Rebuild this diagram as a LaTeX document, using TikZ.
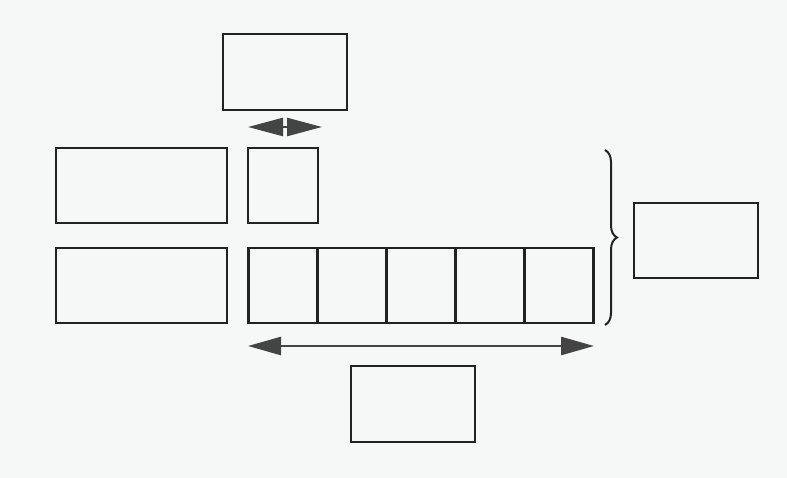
\documentclass[tikz,border=0pt]{standalone}
\usetikzlibrary{arrows.meta,decorations.pathreplacing}
\definecolor{bg}{HTML}{F6F7F7}
\definecolor{ink}{HTML}{222222}
\definecolor{arr}{HTML}{444444}
\begin{document}
\begin{tikzpicture}[x=1pt,y=-1pt,
  box/.style={draw=ink,line width=2.5pt,inner sep=0pt,minimum width=#1},
  box/.default=124pt,
  dblarrow/.style={draw=arr,line width=2.5pt,
    {Triangle[length=#1,width=18pt,fill=arr]}-{Triangle[length=#1,width=18pt,fill=arr]}},
  dblarrow/.default=33pt,
  bracestyle/.style={draw=ink,line width=2pt,decorate,decoration={brace,amplitude=12pt}}]
\fill[bg] (0,0) rectangle (787,478);
\useasboundingbox (0,0) rectangle (787,478);
% boxes
\node[box, minimum height=76pt] (top) at (285,72) {};
\node[box=171pt, minimum height=75pt] (l1) at (141.5,185.5) {};
\node[box=70pt, minimum height=75pt] (sq) at (283,185.5) {};
\node[box=171pt, minimum height=75pt] (l2) at (141.5,285.5) {};
\node[box=69pt, minimum height=75pt] (c1) at (283,285.5) {};
\node[box=69pt, minimum height=75pt] (c2) at (352,285.5) {};
\node[box=69pt, minimum height=75pt] (c3) at (421,285.5) {};
\node[box=69pt, minimum height=75pt] (c4) at (490,285.5) {};
\node[box=69pt, minimum height=75pt] (c5) at (559,285.5) {};
\node[box, minimum height=75pt] (right) at (696,240.5) {};
\node[box, minimum height=76pt] (bot) at (413,404) {};
% arrows
\coordinate (ta) at (248,127);
\coordinate (tb) at (322,127);
\draw[dblarrow=35pt] (ta) -- (tb);
\coordinate (ba) at (248,346);
\coordinate (bb) at (594,346);
\draw[dblarrow] (ba) -- (bb);
% brace
\coordinate (br1) at (605,150);
\coordinate (br2) at (605,325);
\draw[bracestyle] (br1) -- (br2);
\end{tikzpicture}
\end{document}
